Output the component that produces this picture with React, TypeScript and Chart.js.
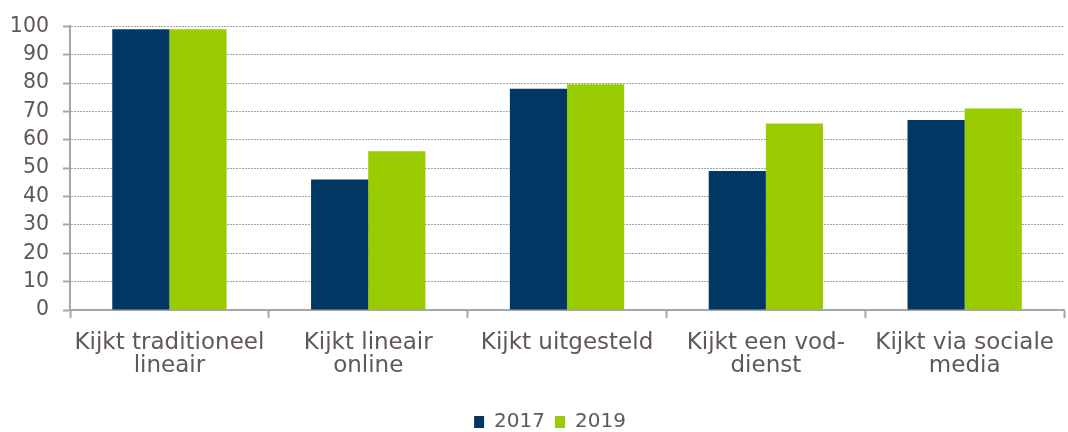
import React, { useEffect, useRef } from "react";
import { Chart, registerables } from "chart.js";

Chart.register(...registerables);

const categories: string[][] = [
  ["Kijkt traditioneel", "lineair"],
  ["Kijkt lineair", "online"],
  ["Kijkt uitgesteld"],
  ["Kijkt een vod-", "dienst"],
  ["Kijkt via sociale", "media"],
];
const values2017: number[] = [99, 46, 78, 49, 67];
const values2019: number[] = [99, 56, 79.6, 65.7, 71];
const seriesNames = ["2017", "2019"];

const TEXT = "#605854";
const AXIS = "#a6a6a6";
const FONT = "'DejaVu Sans', Verdana, sans-serif";

const legendShift = {
  id: "legendShift",
  afterLayout(chart: any) {
    if (chart.legend) {
      chart.legend.left += 16;
      chart.legend.right += 16;
    }
  },
};

export default function App() {
  const ref = useRef<HTMLCanvasElement>(null);
  useEffect(() => {
    if (!ref.current) return;
    const chart = new Chart(ref.current, {
      type: "bar",
      data: {
        labels: categories,
        datasets: [
          { label: seriesNames[0], data: values2017, backgroundColor: "#003763" },
          { label: seriesNames[1], data: values2019, backgroundColor: "#99cc00" },
        ],
      },
      plugins: [legendShift],
      options: {
        animation: false,
        responsive: false,
        maintainAspectRatio: false,
        layout: { padding: { top: 24, right: 0, left: 0, bottom: -10 } },
        datasets: { bar: { categoryPercentage: 0.575, barPercentage: 1 } },
        plugins: {
          tooltip: { enabled: false },
          legend: {
            position: "bottom",
            labels: {
              color: TEXT,
              font: { family: FONT, size: 20 },
              boxWidth: 10,
              boxHeight: 12,
              padding: 10,
            },
          },
        },
        scales: {
          x: {
            grid: {
              offset: true,
              drawOnChartArea: false,
              drawTicks: true,
              tickLength: 8,
              tickColor: AXIS,
              tickWidth: 2,
            },
            border: { color: AXIS, width: 2 },
            ticks: {
              color: TEXT,
              font: { family: FONT, size: 23, lineHeight: 0.98 },
              maxRotation: 0,
              autoSkip: false,
              padding: 14,
            },
            afterFit: (s: any) => { s.height = 92; },
          },
          y: {
            min: 0,
            max: 100,
            grid: {
              color: "#a3a3a3",
              lineWidth: 1,
              tickBorderDash: [],
              tickColor: AXIS,
              tickWidth: 2,
              tickLength: 7,
            },
            border: { color: AXIS, width: 2, dash: [2, 1] },
            ticks: {
              stepSize: 10,
              color: TEXT,
              font: { family: FONT, size: 20.5 },
              padding: 14,
            },
            afterFit: (s: any) => { s.width = 70; },
          },
        },
      },
    });
    return () => chart.destroy();
  }, []);
  return (
    <div style={{ position: "absolute", left: 0, top: 0, width: 1068, height: 432 }}>
      <canvas ref={ref} width={1068} height={432} />
    </div>
  );
}
